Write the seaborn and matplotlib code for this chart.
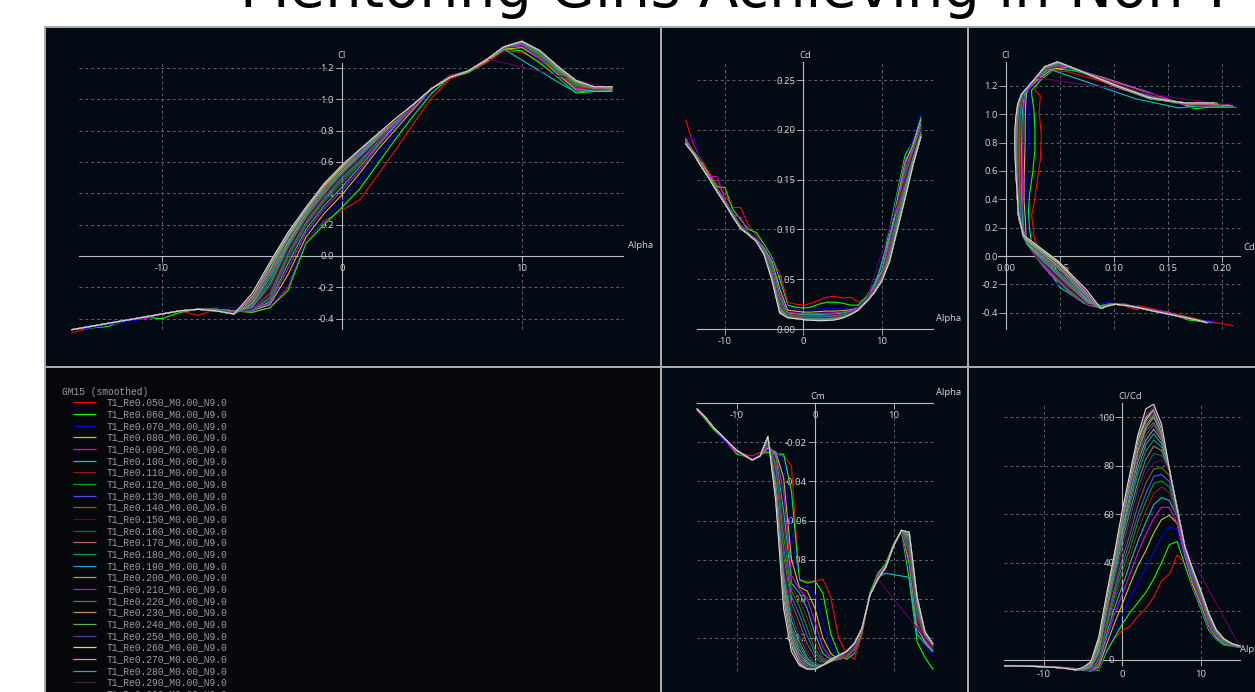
import numpy as np
import pandas as pd
import matplotlib
matplotlib.use("Agg")
import matplotlib.pyplot as plt
import seaborn as sns

W, H = 1255, 692
nan = np.nan

TITLE = "Mentoring Girls Achieving in Non-T"
LEGEND_TITLE = "GM15 (smoothed)"

ALPHA = [-15, -14, -13, -12, -11, -10, -9, -8, -7, -6, -5, -4, -3, -2, -1, 0,
         1, 2, 3, 4, 5, 6, 7, 8, 9, 10, 11, 12, 13, 14, 15]

RE = [0.05, 0.06, 0.07, 0.08, 0.09, 0.10, 0.11, 0.12, 0.13, 0.14, 0.15, 0.16, 0.17,
      0.18, 0.19, 0.20, 0.21, 0.22, 0.23, 0.24, 0.25, 0.26, 0.27, 0.28, 0.29, 0.30]
SERIES = ["T1_Re%.3f_M0.00_N9.0" % r for r in RE]

COLORS = ["#ff0000", "#00ff00", "#0000e6", "#c8c800", "#e000e0", "#00c8c8", "#a01414",
          "#00a000", "#5050ff", "#707000", "#640064", "#0a6464", "#c86464", "#00a050",
          "#1ea0dc", "#a0a064", "#784678", "#46787d", "#c88c50", "#64aa64", "#464696",
          "#dcdc50", "#e682e6", "#5a9696", "#3c2814", "#dcdcdc"]

# Cl per series, one value per ALPHA
CL = [
 [-0.49,-0.46,-0.43,-0.41,-0.39,-0.37,-0.35,-0.38,-0.34,-0.35,-0.36,-0.33,-0.20,0.10,0.22,0.29,0.36,0.52,0.68,0.85,1.01,1.13,1.17,1.23,1.31,1.30,1.24,1.15,1.07,1.06,1.07],
 [-0.47,-0.46,-0.45,-0.41,-0.39,-0.40,-0.36,-0.34,-0.34,-0.35,-0.36,-0.33,-0.22,0.08,0.20,0.31,0.43,0.59,0.75,0.90,1.04,1.14,1.17,1.24,1.32,1.31,1.23,1.14,1.04,1.05,1.05],
 [-0.47,-0.46,-0.44,-0.42,-0.40,-0.37,-0.35,-0.34,-0.33,-0.33,-0.34,-0.32,-0.18,0.10,0.23,0.35,0.49,0.64,0.79,0.93,1.06,1.15,1.18,1.24,1.32,1.33,1.25,1.15,1.05,1.06,1.06],
 [-0.47,-0.45,-0.43,-0.41,-0.39,-0.37,-0.35,-0.34,-0.34,-0.35,-0.35,-0.31,-0.12,0.12,0.27,0.39,0.53,0.68,0.81,0.94,1.07,1.15,1.18,1.24,1.32,1.33,1.26,1.16,1.06,1.06,1.06],
 [-0.47,-0.45,-0.43,-0.41,-0.40,-0.37,-0.35,-0.34,-0.34,-0.35,-0.35,-0.30,-0.08,0.15,0.30,0.42,0.55,0.70,0.83,0.95,1.07,1.15,1.18,1.25,1.33,1.34,1.26,1.17,1.07,1.06,1.07],
 [-0.47,-0.45,-0.43,-0.41,-0.39,-0.37,-0.35,-0.34,-0.34,-0.35,-0.35,-0.29,-0.05,0.17,0.32,0.44,0.57,0.71,0.84,0.96,1.07,1.15,1.18,1.25,1.32,nan,nan,1.11,1.045,1.06,1.06],
 [-0.47,-0.45,-0.43,-0.41,-0.39,-0.37,-0.35,-0.34,-0.34,-0.35,-0.35,-0.28,-0.03,0.19,0.34,0.46,0.58,0.72,0.85,0.96,1.07,1.15,1.18,1.25,1.33,1.35,1.27,1.17,1.08,1.06,1.07],
 [-0.47,-0.45,-0.43,-0.41,-0.39,-0.37,-0.35,-0.34,-0.34,-0.35,-0.35,-0.27,-0.01,0.20,0.35,0.475,0.59,0.73,0.85,0.96,1.07,1.14,1.18,1.25,1.33,1.35,1.27,1.17,1.08,1.07,1.07],
 [-0.47,-0.45,-0.43,-0.41,-0.39,-0.37,-0.35,-0.34,-0.34,-0.35,-0.35,-0.26,0.01,0.21,0.36,0.49,0.60,0.73,0.85,0.96,1.07,1.14,1.18,1.25,1.33,1.35,1.28,1.18,1.09,1.07,1.07],
 [-0.47,-0.45,-0.43,-0.41,-0.39,-0.37,-0.35,-0.34,-0.34,-0.35,-0.34,-0.24,0.02,0.22,0.37,0.50,0.61,0.74,0.86,0.96,1.07,1.14,1.18,1.25,1.33,1.36,1.28,1.18,1.09,1.07,1.07],
 [-0.47,-0.45,-0.43,-0.41,-0.39,-0.37,-0.35,-0.34,-0.34,-0.35,-0.34,-0.22,0.03,0.23,0.38,0.51,0.62,0.74,0.86,0.96,1.07,1.14,1.18,1.26,nan,nan,nan,nan,nan,nan,1.07],
 [-0.47,-0.45,-0.43,-0.41,-0.39,-0.37,-0.35,-0.34,-0.34,-0.35,-0.33,-0.20,0.05,0.24,0.39,0.52,0.63,0.75,0.86,0.97,1.07,1.14,1.18,1.25,1.33,1.36,1.29,1.19,1.10,1.07,1.07],
 [-0.47,-0.45,-0.43,-0.41,-0.39,-0.37,-0.35,-0.34,-0.34,-0.35,-0.33,-0.18,0.06,0.25,0.40,0.53,0.64,0.75,0.86,0.97,1.07,1.14,1.18,1.25,1.33,1.36,1.29,1.19,1.10,1.07,1.07],
 [-0.47,-0.45,-0.43,-0.41,-0.39,-0.37,-0.35,-0.34,-0.34,-0.36,-0.32,-0.16,0.07,0.26,0.41,0.535,0.65,0.76,0.87,0.97,1.07,1.14,1.18,1.25,1.335,1.36,1.29,1.19,1.10,1.08,1.08],
 [-0.47,-0.45,-0.43,-0.41,-0.39,-0.37,-0.35,-0.34,-0.35,-0.37,-0.31,-0.14,0.08,0.27,0.42,0.54,0.65,0.76,0.87,0.97,1.07,1.14,1.18,1.25,1.335,1.365,1.30,1.19,1.11,1.08,1.08],
 [-0.47,-0.45,-0.43,-0.41,-0.39,-0.37,-0.35,-0.34,-0.35,-0.37,-0.30,-0.12,0.09,0.27,0.43,0.545,0.66,0.77,0.87,0.97,1.07,1.14,1.18,1.25,1.335,1.365,1.30,1.20,1.11,1.08,1.08],
 [-0.47,-0.45,-0.43,-0.41,-0.39,-0.37,-0.35,-0.34,-0.35,-0.37,-0.29,-0.11,0.10,0.28,0.43,0.55,0.66,0.77,0.87,0.97,1.07,1.14,1.18,1.25,1.335,1.37,1.30,1.20,1.11,1.08,1.08],
 [-0.47,-0.45,-0.43,-0.41,-0.39,-0.37,-0.35,-0.34,-0.35,-0.37,-0.28,-0.10,0.11,0.28,0.44,0.555,0.67,0.77,0.87,0.97,1.07,1.14,1.18,1.25,1.335,1.37,1.30,1.20,1.11,1.08,1.08],
 [-0.47,-0.45,-0.43,-0.41,-0.39,-0.37,-0.35,-0.34,-0.35,-0.37,-0.28,-0.09,0.12,0.29,0.44,0.56,0.67,0.77,0.87,0.97,1.07,1.14,1.18,1.25,1.335,1.37,1.31,1.20,1.11,1.08,1.08],
 [-0.47,-0.45,-0.43,-0.41,-0.39,-0.37,-0.35,-0.34,-0.35,-0.37,-0.27,-0.08,0.12,0.29,0.45,0.565,0.67,0.78,0.87,0.97,1.07,1.14,1.18,1.25,1.335,1.37,1.31,1.21,1.11,1.08,1.08],
 [-0.47,-0.45,-0.43,-0.41,-0.39,-0.37,-0.35,-0.34,-0.35,-0.37,-0.27,-0.07,0.13,0.30,0.45,0.57,0.67,0.78,0.87,0.97,1.07,1.14,1.18,1.25,1.335,1.37,1.31,1.21,1.12,1.08,1.08],
 [-0.47,-0.45,-0.43,-0.41,-0.39,-0.37,-0.35,-0.34,-0.35,-0.37,-0.26,-0.06,0.13,0.30,0.45,0.57,0.68,0.78,0.87,0.97,1.07,1.14,1.18,1.25,1.335,1.37,1.31,1.21,1.12,1.08,1.08],
 [-0.47,-0.45,-0.43,-0.41,-0.39,-0.37,-0.35,-0.34,-0.35,-0.37,-0.26,-0.05,0.14,0.30,0.46,0.575,0.68,0.78,0.87,0.97,1.07,1.14,1.18,1.25,1.335,1.37,1.31,1.21,1.12,1.08,1.08],
 [-0.47,-0.45,-0.43,-0.41,-0.39,-0.37,-0.35,-0.34,-0.35,-0.37,-0.25,-0.05,0.14,0.31,0.46,0.575,0.68,0.78,0.87,0.97,1.07,1.14,1.18,1.25,1.335,1.37,1.31,1.21,1.12,1.08,1.08],
 [-0.47,-0.45,-0.43,-0.41,-0.39,-0.37,-0.35,-0.34,-0.35,-0.37,-0.25,-0.04,0.15,0.31,0.46,0.58,0.68,0.78,0.87,0.97,1.07,1.14,1.18,1.25,1.335,1.37,1.31,1.21,1.12,1.08,1.08],
 [-0.47,-0.45,-0.43,-0.41,-0.39,-0.37,-0.35,-0.34,-0.35,-0.37,-0.24,-0.04,0.15,0.31,0.46,0.58,0.68,0.78,0.88,0.97,1.07,1.14,1.18,1.25,1.335,1.37,1.31,1.21,1.12,1.08,1.08],
]

# Cd per series
CD = [
 [0.210,0.185,0.170,0.157,0.145,0.135,0.122,0.122,0.104,0.094,0.082,0.071,0.056,0.027,0.025,0.024,0.026,0.029,0.032,0.033,0.031,0.032,0.027,0.031,0.042,0.058,0.085,0.125,0.165,0.185,0.205],
 [0.190,0.178,0.168,0.155,0.143,0.142,0.120,0.110,0.100,0.097,0.085,0.072,0.050,0.024,0.022,0.021,0.022,0.025,0.027,0.027,0.026,0.024,0.024,0.032,0.045,0.062,0.100,0.138,0.175,0.188,0.213],
 [0.190,0.193,0.166,0.154,0.142,0.130,0.117,0.104,0.097,0.092,0.083,0.070,0.045,0.022,0.020,0.019,0.019,0.020,0.021,0.021,0.021,0.021,0.022,0.030,0.044,0.060,0.095,0.135,0.170,0.190,0.216],
 [0.190,0.178,0.166,0.154,0.141,0.129,0.116,0.104,0.096,0.090,0.081,0.068,0.040,0.019,0.018,0.017,0.017,0.0175,0.018,0.018,0.0185,0.0193,0.021,0.029,0.043,0.058,0.090,0.130,0.168,0.185,0.210],
 [0.192,0.177,0.165,0.153,0.153,0.130,0.115,0.112,0.096,0.089,0.080,0.066,0.035,0.017,0.016,0.0155,0.0155,0.0158,0.016,0.0163,0.017,0.0183,0.021,0.029,0.042,0.056,0.088,0.125,0.165,0.182,0.207],
 [0.189,0.176,0.164,0.152,0.140,0.128,0.115,0.103,0.096,0.089,0.079,0.064,0.032,0.016,0.015,0.0145,0.0143,0.0145,0.0148,0.015,0.016,0.0175,0.020,0.028,0.040,nan,nan,0.120,0.160,0.180,0.205],
 [0.188,0.176,0.164,0.152,0.140,0.128,0.115,0.103,0.096,0.089,0.078,0.062,0.030,0.015,0.0142,0.0137,0.0135,0.0136,0.0138,0.014,0.015,0.0167,0.020,0.028,0.040,0.054,0.082,0.118,0.158,0.178,0.203],
 [0.188,0.176,0.164,0.152,0.140,0.128,0.115,0.103,0.096,0.089,0.078,0.061,0.028,0.0145,0.0135,0.013,0.0128,0.0128,0.013,0.0132,0.0145,0.016,0.0195,0.028,0.039,0.053,0.080,0.115,0.155,0.177,0.202],
 [0.187,0.176,0.164,0.152,0.139,0.127,0.114,0.102,0.096,0.089,0.077,0.059,0.026,0.014,0.013,0.0125,0.0122,0.0122,0.0124,0.0127,0.014,0.0155,0.0195,0.028,0.039,0.052,0.078,0.112,0.152,0.175,0.200],
 [0.187,0.176,0.163,0.151,0.139,0.127,0.114,0.102,0.096,0.089,0.076,0.058,0.025,0.0135,0.0125,0.012,0.0117,0.0116,0.0118,0.0122,0.0135,0.015,0.019,0.027,0.038,0.051,0.076,0.110,0.150,0.174,0.199],
 [0.187,0.176,0.163,0.151,0.139,0.127,0.114,0.102,0.095,0.088,0.076,0.057,0.024,0.013,0.012,0.0116,0.0112,0.0110,0.0112,0.0118,0.013,0.0147,0.019,0.027,nan,nan,nan,nan,nan,nan,0.200],
 [0.187,0.176,0.163,0.151,0.139,0.127,0.114,0.102,0.095,0.088,0.076,0.056,0.023,0.0127,0.0117,0.0112,0.0108,0.0106,0.0108,0.0114,0.0127,0.0145,0.0188,0.027,0.037,0.050,0.074,0.108,0.146,0.172,0.198],
 [0.187,0.176,0.163,0.151,0.139,0.127,0.114,0.102,0.095,0.088,0.076,0.055,0.022,0.0124,0.0114,0.0108,0.0104,0.0102,0.0104,0.0110,0.0124,0.0145,0.0188,0.027,0.037,0.050,0.073,0.106,0.143,0.171,0.197],
 [0.186,0.176,0.163,0.151,0.138,0.126,0.113,0.101,0.095,0.088,0.076,0.054,0.021,0.0122,0.0112,0.0105,0.0101,0.0099,0.0101,0.0107,0.0122,0.0145,0.0188,0.027,0.037,0.049,0.072,0.105,0.140,0.170,0.196],
 [0.186,0.176,0.163,0.151,0.138,0.126,0.113,0.101,0.095,0.088,0.075,0.053,0.020,0.0120,0.0110,0.0103,0.0098,0.0096,0.0098,0.0104,0.0120,0.0145,0.0188,0.027,0.037,0.049,0.071,0.104,0.138,0.169,0.195],
 [0.186,0.176,0.163,0.151,0.138,0.126,0.113,0.101,0.095,0.088,0.075,0.053,0.019,0.0119,0.0109,0.0101,0.0096,0.0094,0.0096,0.0102,0.0118,0.0145,0.019,0.027,0.036,0.049,0.070,0.103,0.136,0.168,0.195],
 [0.186,0.176,0.163,0.151,0.138,0.126,0.113,0.101,0.095,0.088,0.075,0.052,0.019,0.0118,0.0108,0.0099,0.0094,0.0092,0.0094,0.0100,0.0117,0.0145,0.019,0.027,0.036,0.048,0.070,0.102,0.135,0.167,0.194],
 [0.186,0.176,0.163,0.151,0.138,0.126,0.113,0.101,0.095,0.088,0.075,0.052,0.018,0.0117,0.0107,0.0098,0.0093,0.0090,0.0092,0.0099,0.0116,0.0145,0.019,0.027,0.036,0.048,0.069,0.101,0.134,0.166,0.194],
 [0.186,0.176,0.163,0.151,0.138,0.126,0.113,0.101,0.095,0.088,0.075,0.051,0.018,0.0116,0.0106,0.0097,0.0092,0.0089,0.0091,0.0097,0.0115,0.0145,0.019,0.027,0.036,0.048,0.069,0.100,0.133,0.166,0.193],
 [0.186,0.176,0.163,0.151,0.138,0.126,0.113,0.101,0.095,0.088,0.075,0.051,0.017,0.0116,0.0106,0.0096,0.0091,0.0088,0.0090,0.0096,0.0114,0.0145,0.019,0.027,0.036,0.048,0.068,0.100,0.133,0.165,0.193],
 [0.186,0.176,0.163,0.151,0.138,0.126,0.113,0.101,0.095,0.088,0.075,0.050,0.017,0.0115,0.0105,0.0096,0.0090,0.0087,0.0089,0.0095,0.0113,0.0145,0.019,0.027,0.036,0.048,0.068,0.100,0.132,0.165,0.193],
 [0.186,0.176,0.163,0.151,0.138,0.126,0.113,0.101,0.095,0.088,0.075,0.050,0.017,0.0115,0.0105,0.0095,0.0090,0.0086,0.0088,0.0094,0.0112,0.0145,0.019,0.027,0.036,0.048,0.068,0.100,0.132,0.165,0.193],
 [0.186,0.176,0.163,0.151,0.138,0.126,0.113,0.101,0.095,0.088,0.075,0.050,0.016,0.0115,0.0105,0.0095,0.0089,0.0085,0.0087,0.0094,0.0112,0.0145,0.019,0.027,0.036,0.048,0.068,0.100,0.132,0.165,0.193],
 [0.186,0.176,0.163,0.151,0.138,0.126,0.113,0.101,0.095,0.088,0.075,0.050,0.016,0.0115,0.0105,0.0095,0.0089,0.0085,0.0086,0.0093,0.0111,0.0145,0.019,0.027,0.036,0.048,0.068,0.100,0.132,0.165,0.193],
 [0.186,0.176,0.163,0.151,0.138,0.126,0.113,0.101,0.095,0.088,0.075,0.050,0.016,0.0115,0.0105,0.0095,0.0088,0.0084,0.0086,0.0093,0.0111,0.0145,0.019,0.027,0.036,0.048,0.068,0.100,0.132,0.165,0.193],
 [0.186,0.176,0.163,0.151,0.138,0.126,0.113,0.101,0.095,0.088,0.075,0.049,0.016,0.0115,0.0105,0.0094,0.0088,0.0084,0.0085,0.0092,0.0110,0.0145,0.019,0.027,0.036,0.048,0.068,0.100,0.132,0.165,0.193],
]

# Cm per series
CM = [
 [-0.004,-0.008,-0.013,-0.017,-0.021,-0.025,-0.026,-0.027,-0.025,-0.025,-0.026,-0.027,-0.032,-0.091,-0.091,-0.091,-0.090,-0.099,-0.120,-0.128,-0.131,-0.118,-0.097,-0.087,-0.083,-0.073,-0.066,-0.080,-0.110,-0.119,-0.124],
 [-0.003,-0.008,-0.013,-0.017,-0.021,-0.026,-0.027,-0.029,-0.026,-0.025,-0.026,-0.026,-0.045,-0.090,-0.092,-0.091,-0.097,-0.118,-0.128,-0.131,-0.128,-0.117,-0.097,-0.087,-0.082,-0.072,-0.065,-0.090,-0.122,-0.130,-0.136],
 [-0.003,-0.007,-0.012,-0.017,-0.021,-0.025,-0.027,-0.029,-0.026,-0.024,-0.025,-0.030,-0.065,-0.093,-0.094,-0.098,-0.112,-0.125,-0.130,-0.130,-0.127,-0.116,-0.098,-0.088,-0.083,-0.073,-0.065,-0.085,-0.117,-0.124,-0.129],
 [-0.003,-0.007,-0.012,-0.016,-0.020,-0.024,-0.027,-0.029,-0.027,-0.023,-0.025,-0.038,-0.080,-0.094,-0.096,-0.105,-0.120,-0.128,-0.131,-0.130,-0.126,-0.116,-0.098,-0.088,-0.083,-0.073,-0.065,-0.082,-0.115,-0.122,-0.127],
 [-0.004,-0.007,-0.012,-0.016,-0.021,-0.025,-0.026,-0.029,-0.027,-0.022,-0.026,-0.045,-0.088,-0.095,-0.100,-0.112,-0.125,-0.130,-0.131,-0.130,-0.126,-0.116,-0.098,-0.088,-0.083,-0.073,-0.065,-0.080,-0.113,-0.121,-0.126],
 [-0.003,-0.007,-0.012,-0.016,-0.020,-0.024,-0.0265,-0.029,-0.027,-0.021,-0.027,-0.055,-0.092,-0.097,-0.105,-0.118,-0.128,-0.131,-0.131,-0.129,-0.125,-0.115,-0.098,-0.089,-0.087,nan,nan,-0.089,-0.118,-0.123,-0.127],
 [-0.003,-0.007,-0.012,-0.016,-0.020,-0.024,-0.0265,-0.029,-0.027,-0.021,-0.029,-0.062,-0.094,-0.100,-0.110,-0.122,-0.130,-0.132,-0.131,-0.129,-0.125,-0.115,-0.098,-0.089,-0.084,-0.073,-0.065,-0.078,-0.110,-0.120,-0.125],
 [-0.003,-0.007,-0.012,-0.016,-0.020,-0.024,-0.0265,-0.029,-0.027,-0.020,-0.031,-0.068,-0.096,-0.104,-0.115,-0.126,-0.131,-0.132,-0.131,-0.128,-0.124,-0.115,-0.098,-0.089,-0.084,-0.073,-0.065,-0.076,-0.108,-0.119,-0.125],
 [-0.003,-0.007,-0.012,-0.016,-0.020,-0.024,-0.0265,-0.029,-0.027,-0.020,-0.033,-0.074,-0.099,-0.108,-0.119,-0.128,-0.132,-0.132,-0.131,-0.128,-0.124,-0.115,-0.098,-0.089,-0.084,-0.073,-0.065,-0.074,-0.106,-0.119,-0.124],
 [-0.003,-0.007,-0.012,-0.016,-0.020,-0.024,-0.0265,-0.029,-0.027,-0.019,-0.035,-0.078,-0.102,-0.112,-0.123,-0.130,-0.133,-0.132,-0.131,-0.128,-0.124,-0.115,-0.098,-0.089,-0.084,-0.073,-0.065,-0.072,-0.105,-0.118,-0.124],
 [-0.003,-0.007,-0.012,-0.016,-0.020,-0.024,-0.0265,-0.029,-0.027,-0.019,-0.037,-0.082,-0.105,-0.116,-0.126,-0.132,-0.133,-0.132,-0.130,-0.128,-0.124,-0.115,-0.098,-0.090,nan,nan,nan,nan,nan,nan,-0.125],
 [-0.003,-0.007,-0.012,-0.016,-0.020,-0.024,-0.0265,-0.029,-0.027,-0.019,-0.039,-0.085,-0.108,-0.119,-0.128,-0.133,-0.134,-0.132,-0.130,-0.127,-0.123,-0.115,-0.098,-0.090,-0.084,-0.073,-0.065,-0.071,-0.104,-0.118,-0.123],
 [-0.003,-0.007,-0.012,-0.016,-0.020,-0.024,-0.0265,-0.029,-0.027,-0.018,-0.041,-0.088,-0.111,-0.122,-0.130,-0.134,-0.134,-0.132,-0.130,-0.127,-0.123,-0.115,-0.098,-0.090,-0.084,-0.073,-0.065,-0.070,-0.103,-0.118,-0.123],
 [-0.003,-0.007,-0.012,-0.016,-0.020,-0.024,-0.0265,-0.029,-0.027,-0.018,-0.042,-0.090,-0.114,-0.124,-0.131,-0.134,-0.134,-0.132,-0.130,-0.127,-0.123,-0.115,-0.098,-0.090,-0.084,-0.073,-0.065,-0.069,-0.102,-0.118,-0.123],
 [-0.003,-0.007,-0.012,-0.016,-0.020,-0.024,-0.0265,-0.029,-0.027,-0.018,-0.043,-0.092,-0.116,-0.126,-0.132,-0.135,-0.134,-0.132,-0.130,-0.127,-0.123,-0.115,-0.098,-0.090,-0.084,-0.073,-0.065,-0.068,-0.101,-0.117,-0.123],
 [-0.003,-0.007,-0.012,-0.016,-0.020,-0.024,-0.0265,-0.029,-0.027,-0.018,-0.044,-0.094,-0.118,-0.128,-0.133,-0.135,-0.134,-0.132,-0.130,-0.127,-0.123,-0.115,-0.098,-0.090,-0.084,-0.073,-0.065,-0.068,-0.101,-0.117,-0.123],
 [-0.003,-0.007,-0.012,-0.016,-0.020,-0.024,-0.0265,-0.029,-0.027,-0.018,-0.045,-0.096,-0.119,-0.129,-0.134,-0.135,-0.134,-0.132,-0.130,-0.127,-0.123,-0.115,-0.098,-0.090,-0.084,-0.073,-0.065,-0.067,-0.100,-0.117,-0.123],
 [-0.003,-0.007,-0.012,-0.016,-0.020,-0.024,-0.0265,-0.029,-0.027,-0.017,-0.046,-0.097,-0.120,-0.130,-0.134,-0.135,-0.134,-0.132,-0.130,-0.127,-0.123,-0.115,-0.098,-0.090,-0.084,-0.073,-0.065,-0.067,-0.100,-0.117,-0.123],
 [-0.003,-0.007,-0.012,-0.016,-0.020,-0.024,-0.0265,-0.029,-0.027,-0.017,-0.047,-0.098,-0.121,-0.131,-0.135,-0.136,-0.134,-0.132,-0.129,-0.127,-0.123,-0.115,-0.098,-0.090,-0.084,-0.073,-0.065,-0.067,-0.100,-0.117,-0.123],
 [-0.003,-0.007,-0.012,-0.016,-0.020,-0.024,-0.0265,-0.029,-0.027,-0.017,-0.047,-0.099,-0.122,-0.132,-0.135,-0.136,-0.134,-0.132,-0.129,-0.127,-0.123,-0.115,-0.098,-0.090,-0.084,-0.073,-0.065,-0.067,-0.100,-0.117,-0.123],
 [-0.003,-0.007,-0.012,-0.016,-0.020,-0.024,-0.0265,-0.029,-0.027,-0.017,-0.048,-0.100,-0.123,-0.132,-0.135,-0.136,-0.134,-0.132,-0.129,-0.127,-0.123,-0.115,-0.098,-0.090,-0.084,-0.073,-0.065,-0.067,-0.100,-0.117,-0.123],
 [-0.003,-0.007,-0.012,-0.016,-0.020,-0.024,-0.0265,-0.029,-0.027,-0.017,-0.048,-0.101,-0.124,-0.133,-0.136,-0.136,-0.134,-0.132,-0.129,-0.127,-0.123,-0.115,-0.098,-0.090,-0.084,-0.073,-0.065,-0.066,-0.099,-0.117,-0.123],
 [-0.003,-0.007,-0.012,-0.016,-0.020,-0.024,-0.0265,-0.029,-0.027,-0.017,-0.049,-0.102,-0.125,-0.133,-0.136,-0.136,-0.134,-0.131,-0.129,-0.127,-0.123,-0.115,-0.098,-0.090,-0.084,-0.073,-0.065,-0.066,-0.099,-0.117,-0.123],
 [-0.003,-0.007,-0.012,-0.016,-0.020,-0.024,-0.0265,-0.029,-0.027,-0.017,-0.049,-0.103,-0.125,-0.134,-0.136,-0.136,-0.134,-0.131,-0.129,-0.127,-0.123,-0.115,-0.098,-0.090,-0.084,-0.073,-0.065,-0.066,-0.099,-0.117,-0.123],
 [-0.003,-0.007,-0.012,-0.016,-0.020,-0.024,-0.0265,-0.029,-0.027,-0.017,-0.050,-0.104,-0.126,-0.134,-0.136,-0.136,-0.134,-0.131,-0.129,-0.127,-0.123,-0.115,-0.098,-0.090,-0.084,-0.073,-0.065,-0.066,-0.099,-0.117,-0.123],
 [-0.003,-0.007,-0.012,-0.016,-0.020,-0.024,-0.0265,-0.029,-0.027,-0.017,-0.050,-0.105,-0.127,-0.134,-0.136,-0.136,-0.134,-0.131,-0.129,-0.127,-0.123,-0.115,-0.098,-0.090,-0.084,-0.073,-0.065,-0.066,-0.099,-0.117,-0.123],
]

for arr in (CL, CD, CM):
    assert len(arr) == len(RE)
    for row in arr:
        assert len(row) == len(ALPHA), len(row)

# ---------------- data frame ----------------
recs = []
for i, name in enumerate(SERIES):
    for j, a in enumerate(ALPHA):
        recs.append({"series": name, "alpha": a, "Cl": CL[i][j], "Cd": CD[i][j], "Cm": CM[i][j]})
df = pd.DataFrame(recs)
df["ClCd"] = df["Cl"] / df["Cd"]

# ---------------- figure ----------------
plt.rcParams["font.family"] = ["Open Sans", "DejaVu Sans"]
plt.rcParams["axes.unicode_minus"] = False

fig = plt.figure(figsize=(W / 100, H / 100), dpi=100, facecolor="white")

BORDER = "#a9a9a9"
PANEL_BG = "#020a13"
LEG_BG = "#05070a"
AXIS_C = "#bcbcbc"
GRID_C = "#5e646a"
TXT_C = "#d8d8d8"
LBL = 6.8

# grey frame behind the panels (a background axes)
bg = fig.add_axes([44 / W, 0, (W - 44) / W, (H - 26) / H], zorder=-5)
bg.set_facecolor(BORDER)
bg.set_xticks([])
bg.set_yticks([])
for s in bg.spines.values():
    s.set_visible(False)

fig.text(240 / W, 1 - 7 / H, TITLE, fontsize=41.5, family="DejaVu Sans",
         color="black", ha="left", va="baseline")


def add_panel(x0, y0, x1, y1, fc):
    ax = fig.add_axes([x0 / W, 1 - y1 / H, (x1 - x0) / W, (y1 - y0) / H])
    ax.set_facecolor(fc)
    return ax


def px_text(x, y, s, ha="center"):
    fig.text(x / W, 1 - y / H, s, color=TXT_C, fontsize=LBL, ha=ha, va="center")


def style(ax, xlim, ylim, xb, yb, xticks, yticks, xfmt, yfmt, gx, gy):
    for s in ("top", "right"):
        ax.spines[s].set_visible(False)
    ax.spines["bottom"].set_position(("data", 0))
    ax.spines["left"].set_position(("data", 0))
    ax.spines["bottom"].set_bounds(*xb)
    ax.spines["left"].set_bounds(*yb)
    for s in ("bottom", "left"):
        ax.spines[s].set_color(AXIS_C)
        ax.spines[s].set_linewidth(0.8)
    ax.set_xticks(xticks)
    ax.set_xticklabels([xfmt % v for v in xticks])
    ax.set_yticks(yticks)
    ax.set_yticklabels([yfmt % v for v in yticks])
    ax.tick_params(direction="out", length=4.5, width=0.6, color=AXIS_C,
                   labelcolor=TXT_C, labelsize=LBL, pad=1.2)
    ax.hlines(gy, xb[0], xb[1], colors=GRID_C, linestyles=(0, (3, 3)),
              linewidth=0.7, zorder=1)
    ax.vlines(gx, yb[0], yb[1], colors=GRID_C, linestyles=(0, (3, 3)),
              linewidth=0.7, zorder=1)
    ax.set_xlabel("")
    ax.set_ylabel("")
    ax.set_xlim(*xlim)
    ax.set_ylim(*ylim)


def curves(ax, x, y):
    d = df.dropna(subset=[x, y])
    sns.lineplot(data=d, x=x, y=y, hue="series", hue_order=SERIES, palette=COLORS,
                 estimator=None, sort=False, legend=False, linewidth=0.8,
                 ax=ax, zorder=3)


# Panel 1: Cl vs Alpha
ax1 = add_panel(46, 28, 660, 366, PANEL_BG)
curves(ax1, "alpha", "Cl")
style(ax1, (-16.44, 17.67), (-0.702, 1.455), (-14.6, 15.6), (-0.466, 1.23),
      [-10, 0, 10], [-0.4, -0.2, 0.0, 0.2, 0.4, 0.6, 0.8, 1.0, 1.2], "%d", "%.1f",
      [-10, 10], [-0.4, -0.2, 0.2, 0.4, 0.6, 0.8, 1.0, 1.2])
px_text(342, 55, "Cl")
px_text(628, 245, "Alpha", ha="left")

# Panel 2: Cd vs Alpha
ax2 = add_panel(662, 28, 967, 366, PANEL_BG)
curves(ax2, "alpha", "Cd")
style(ax2, (-18.02, 20.88), (-0.0371, 0.3022), (-13.6, 16.5), (0.0, 0.268),
      [-10, 0, 10], [0.0, 0.05, 0.10, 0.15, 0.20, 0.25], "%d", "%.2f",
      [-10, 10], [0.05, 0.10, 0.15, 0.20, 0.25])
px_text(805, 56, "Cd")
px_text(936, 318, "Alpha", ha="left")

# Panel 3: Cl vs Cd
ax3 = add_panel(969, 28, 1255, 366, PANEL_BG)
curves(ax3, "Cd", "Cl")
style(ax3, (-0.034, 0.2308), (-0.776, 1.609), (-0.007, 0.217), (-0.515, 1.37),
      [0.0, 0.05, 0.10, 0.15, 0.20], [-0.4, -0.2, 0.0, 0.2, 0.4, 0.6, 0.8, 1.0, 1.2],
      "%.2f", "%.1f",
      [0.05, 0.10, 0.15, 0.20], [-0.4, -0.2, 0.2, 0.4, 0.6, 0.8, 1.0, 1.2])
px_text(1006, 56, "Cl")
px_text(1243, 247, "Cd", ha="left")

# Panel 4: legend
ax4 = add_panel(46, 368, 660, 692, LEG_BG)
ax4.set_xlim(46, 660)
ax4.set_ylim(692, 368)
ax4.set_xticks([])
ax4.set_yticks([])
for s in ax4.spines.values():
    s.set_visible(False)
mono = dict(family=["Liberation Mono", "DejaVu Sans Mono"], fontsize=6.9, color="#9c9c9c")
ax4.text(62, 392.3, LEGEND_TITLE, ha="left", va="center", **mono)
for i, (name, c) in enumerate(zip(SERIES, COLORS)):
    yy = 402.3 + 11.67 * i
    ax4.plot([73, 96], [yy, yy], color=c, linewidth=0.9, solid_capstyle="butt")
    ax4.text(107, yy, name, ha="left", va="center", clip_on=True, **mono)

# Panel 5: Cm vs Alpha
ax5 = add_panel(662, 368, 967, 692, PANEL_BG)
curves(ax5, "alpha", "Cm")
style(ax5, (-19.49, 19.36), (-0.1477, 0.01806), (-15.0, 15.0), (-0.137, 0.0),
      [-10, 0, 10], [-0.02, -0.04, -0.06, -0.08, -0.10, -0.12], "%d", "%.2f",
      [-10, 10], [-0.02, -0.04, -0.06, -0.08, -0.10, -0.12])
px_text(818, 397, "Cm")
px_text(936, 392, "Alpha", ha="left")

# Panel 6: Cl/Cd vs Alpha
ax6 = add_panel(969, 368, 1255, 692, PANEL_BG)
curves(ax6, "alpha", "ClCd")
style(ax6, (-19.55, 16.92), (-13.35, 120.4), (-15.1, 15.0), (-2.4, 105.8),
      [-10, 0, 10], [0, 20, 40, 60, 80, 100], "%d", "%d",
      [-10, 10], [20, 40, 60, 80, 100])
ax6.tick_params(axis="x", pad=3.0)
px_text(1130, 397, "Cl/Cd")
px_text(1240, 649, "Alpha", ha="left")

fig.savefig("out.png", dpi=100, facecolor="white")
